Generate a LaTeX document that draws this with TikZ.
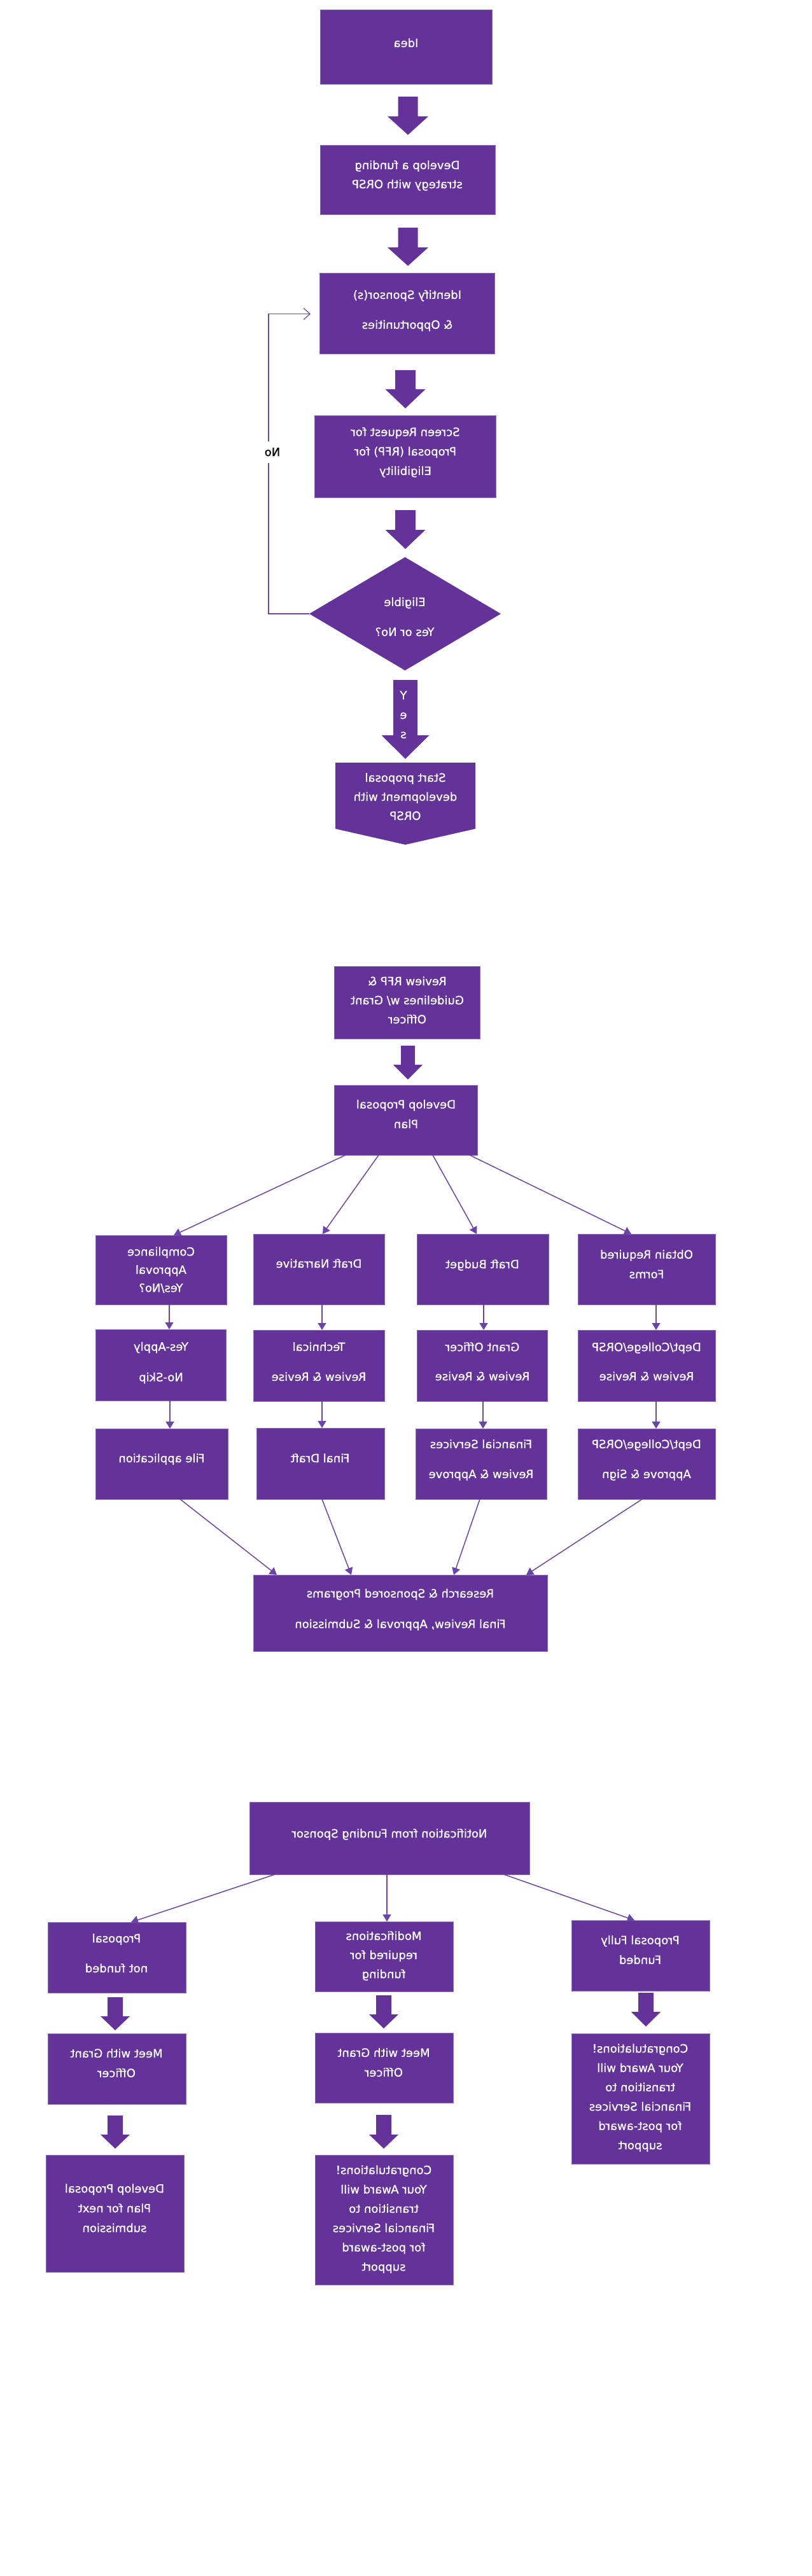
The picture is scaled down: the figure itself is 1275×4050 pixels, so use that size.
\documentclass[tikz,border=0pt]{standalone}
\usepackage{fontspec}
\setmainfont{DejaVu Sans}[FakeBold=0.8]
\usepackage{graphicx}
\usetikzlibrary{shapes.geometric,arrows.meta,calc}
\definecolor{pp}{HTML}{633399}
\definecolor{ppl}{HTML}{8B6CC0}
\definecolor{pline}{HTML}{6B44A8}
\newcommand{\mt}[2]{\scalebox{-1}[1]{\fontsize{9}{#1}\selectfont\begin{tabular}{@{}c@{}}#2\end{tabular}}}
\newcommand{\bx}[5]{\node[box, minimum width={(#4-#2)*0.5pt}, minimum height={(#5-#3)*0.5pt}] (#1) at ({(#2+#4)/2},{(#3+#5)/2}) {};}
\newcommand{\barrow}[6]{\fill[pp] ({#1-#5},#2) -- ({#1+#5},#2) -- ({#1+#5},#3) -- ({#1+#6},#3) -- (#1,#4) -- ({#1-#6},#3) -- ({#1-#5},#3) -- cycle;}
\begin{document}
\begin{tikzpicture}[x=0.5pt,y=-0.5pt,
  box/.style={fill=pp,draw=ppl,line width=0.5pt,inner sep=0pt,outer sep=0pt},
  txt/.style={text=white,inner sep=0pt},
  conn/.style={draw=pline,line width=0.75pt,-{Triangle[length=5.5pt,width=6.5pt]}},
  loopc/.style={draw=pline,line width=0.6pt,-{Straight Barb[length=5pt,width=9pt]}}]
\fill[white] (0,0) rectangle (1275,4050);
\useasboundingbox (0,0) rectangle (1275,4050);

% ---------- section 1 ----------
\bx{idea}{503}{16}{773}{133}
\bx{fund}{503}{229}{778}{338}
\bx{ident}{502}{430}{777}{557}
\bx{screen}{494}{654}{779}{782}
\node[diamond, fill=pp, inner sep=0pt, outer sep=0pt, minimum width=150.5pt, minimum height=89pt] (elig) at (636.5,965) {};
\fill[pp] (527,1199) -- (747,1199) -- (747,1303) -- (637,1328) -- (527,1303) -- cycle;
\coordinate (start) at (637,1260);

\barrow{641}{152}{183}{212}{15.5}{32}
\barrow{641}{358}{389}{418}{15.5}{32}
\barrow{637}{582}{612}{642}{16}{31.5}
\barrow{637}{802}{833}{863}{16}{31.5}
\barrow{637}{1069}{1156}{1193}{19}{37.5}

\node[txt] (tidea) at (638,68) {\mt{15}{Idea}};
\node[txt] (tfund) at (640,275) {\mt{15}{Develop a funding\\strategy with ORSP}};
\node[txt] (tident) at (640,484) {\mt{23.5}{Identify Sponsor(s)\\\& Opportunities}};
\node[txt] (tscreen) at (637,710) {\mt{15.3}{Screen Request for\\Proposal (RFP) for\\Eligibility}};
\node[txt] (telig) at (636,967) {\mt{23.5}{Eligible\\Yes or No?}};
\node[txt] (tyes) at (634,1124) {\mt{15.25}{Y\\e\\s}};
\node[txt] (tstart) at (637,1253) {\mt{15}{Start proposal\\development with\\ORSP}};

\draw[loopc, shorten >=7pt] (elig.west) -| ($(ident.west)+(-80,0)$) -- (ident.west);
\node[fill=white, inner sep=1pt] (nolab) at (428,711) {\mt{15}{No}};

% ---------- section 2 ----------
\bx{review}{525}{1519}{754}{1633}
\bx{plan}{525}{1706}{750}{1816}
\barrow{641}{1644}{1674}{1697}{11}{23}
\node[txt] (treview) at (640,1573) {\mt{15}{Review RFP \&\\Guidelines w/ Grant\\Officer}};
\node[txt] (tplan) at (638,1752) {\mt{15.5}{Develop Proposal\\Plan}};

\bx{compl}{150}{1942}{356}{2051}
\bx{narr}{398}{1940}{604}{2051}
\bx{budget}{655}{1940}{862}{2051}
\bx{obtain}{908}{1940}{1124}{2051}
\bx{yesap}{150}{2090}{355}{2202}
\bx{tech}{398}{2091}{604}{2203}
\bx{grant}{655}{2091}{860}{2203}
\bx{deptrev}{908}{2091}{1124}{2203}
\bx{file}{150}{2246}{358}{2357}
\bx{final}{403}{2245}{604}{2357}
\bx{fin}{653}{2246}{859}{2357}
\bx{deptsign}{908}{2246}{1124}{2357}
\bx{research}{398}{2476}{860}{2596}

\node[txt] (tcompl) at (253,1997) {\mt{14.25}{Compliance\\Approval\\Yes/No?}};
\node[txt] (tnarr) at (501,1987) {\mt{15}{Draft Narrative}};
\node[txt] (tbudget) at (758,1988) {\mt{15}{Draft Budget}};
\node[txt] (tobtain) at (1016,1988) {\mt{15.5}{Obtain Required\\Forms}};
\node[txt] (tyesap) at (253,2138) {\mt{24}{Yes-Apply\\No-Skip}};
\node[txt] (ttech) at (501,2138) {\mt{23.5}{Technical\\Review \& Revise}};
\node[txt] (tgrant) at (758,2138) {\mt{23}{Grant Officer\\Review \& Revise}};
\node[txt] (tdeptrev) at (1016,2138) {\mt{23}{Dept/College/ORSP\\Review \& Revise}};
\node[txt] (tfile) at (254,2293) {\mt{15}{File application}};
\node[txt] (tfinal) at (503,2293) {\mt{15}{Final Draft}};
\node[txt] (tfin) at (756,2291) {\mt{23.5}{Financial Services\\Review \& Approve}};
\node[txt] (tdeptsign) at (1016,2291) {\mt{23.5}{Dept/College/ORSP\\Approve \& Sign}};
\node[txt] (tresearch) at (629,2526) {\mt{24}{Research \& Sponsored Programs\\Final Review, Approval \& Submission}};

\draw[conn] ($(plan.south west)+(18,0)$) -- ($(compl.north west)+(123,0)$);
\draw[conn] ($(plan.south west)+(70,0)$) -- ($(narr.north west)+(109,0)$);
\draw[conn] ($(plan.south west)+(155,0)$) -- ($(budget.north west)+(94,0)$);
\draw[conn] ($(plan.south west)+(213,0)$) -- ($(obtain.north west)+(84,0)$);

\draw[conn] ($(compl.south west)+(116,0)$) -- ($(yesap.north west)+(116,0)$);
\draw[conn] ($(narr.south west)+(108,0)$) -- ($(tech.north west)+(108,0)$);
\draw[conn] ($(budget.south west)+(105,0)$) -- ($(grant.north west)+(105,0)$);
\draw[conn] ($(obtain.south west)+(123,0)$) -- ($(deptrev.north west)+(123,0)$);
\draw[conn] ($(yesap.south west)+(117,0)$) -- ($(file.north west)+(117,0)$);
\draw[conn] ($(tech.south west)+(108,0)$) -- ($(final.north west)+(103,0)$);
\draw[conn] ($(grant.south west)+(104,0)$) -- ($(fin.north west)+(106,0)$);
\draw[conn] ($(deptrev.south west)+(123,0)$) -- ($(deptsign.north west)+(123,0)$);

\draw[conn] ($(file.south west)+(133,0)$) -- ($(research.north west)+(37,0)$);
\draw[conn] ($(final.south west)+(103,0)$) -- ($(research.north west)+(154,0)$);
\draw[conn] ($(fin.south west)+(101,0)$) -- ($(research.north west)+(315,0)$);
\draw[conn] ($(deptsign.south west)+(101,0)$) -- ($(research.north west)+(429,0)$);

% ---------- section 3 ----------
\bx{notif}{392}{2833}{832}{2947}
\bx{notfund}{75}{3022}{292}{3133}
\bx{mods}{495}{3021}{712}{3131}
\bx{full}{898}{3019}{1115}{3130}
\bx{meeta}{75}{3197}{292}{3308}
\bx{meetb}{495}{3196}{712}{3306}
\bx{devnext}{72}{3388}{289}{3572}
\bx{congrb}{495}{3388}{712}{3592}
\bx{congra}{898}{3197}{1115}{3402}

\barrow{181}{3140}{3170}{3192}{12}{23}
\barrow{181}{3326}{3356}{3378}{12}{23}
\barrow{603}{3137}{3167}{3189}{12}{23}
\barrow{603}{3325}{3356}{3378}{12}{23}
\barrow{1015}{3133}{3163}{3186}{12}{23}

\node[txt] (tnotif) at (612,2883) {\mt{15}{Notification from Funding Sponsor}};
\node[txt] (tnotfund) at (183,3068) {\mt{23.5}{Proposal\\not funded}};
\node[txt] (tmods) at (603,3074) {\mt{15}{Modifications\\required for\\funding}};
\node[txt] (tfull) at (1006,3066) {\mt{15.5}{Proposal Fully\\Funded}};
\node[txt] (tmeeta) at (183,3244) {\mt{15.5}{Meet with Grant\\Officer}};
\node[txt] (tmeetb) at (603,3243) {\mt{15.5}{Meet with Grant\\Officer}};
\node[txt] (tdevnext) at (180,3472) {\mt{15.5}{Develop Proposal\\Plan for next\\submission}};
\node[txt] (tcongrb) at (603,3488) {\mt{15.2}{Congratulations!\\Your Award will\\transition to\\Financial Services\\for post-award\\support}};
\node[txt] (tcongra) at (1006,3297) {\mt{15.2}{Congratulations!\\Your Award will\\transition to\\Financial Services\\for post-award\\support}};

\draw[conn] ($(notif.south west)+(40,0)$) -- ($(notfund.north west)+(131,0)$);
\draw[conn] ($(notif.south west)+(216,0)$) -- ($(mods.north west)+(113,0)$);
\draw[conn] ($(notif.south west)+(400,0)$) -- ($(full.north west)+(99,0)$);
\end{tikzpicture}
\end{document}
